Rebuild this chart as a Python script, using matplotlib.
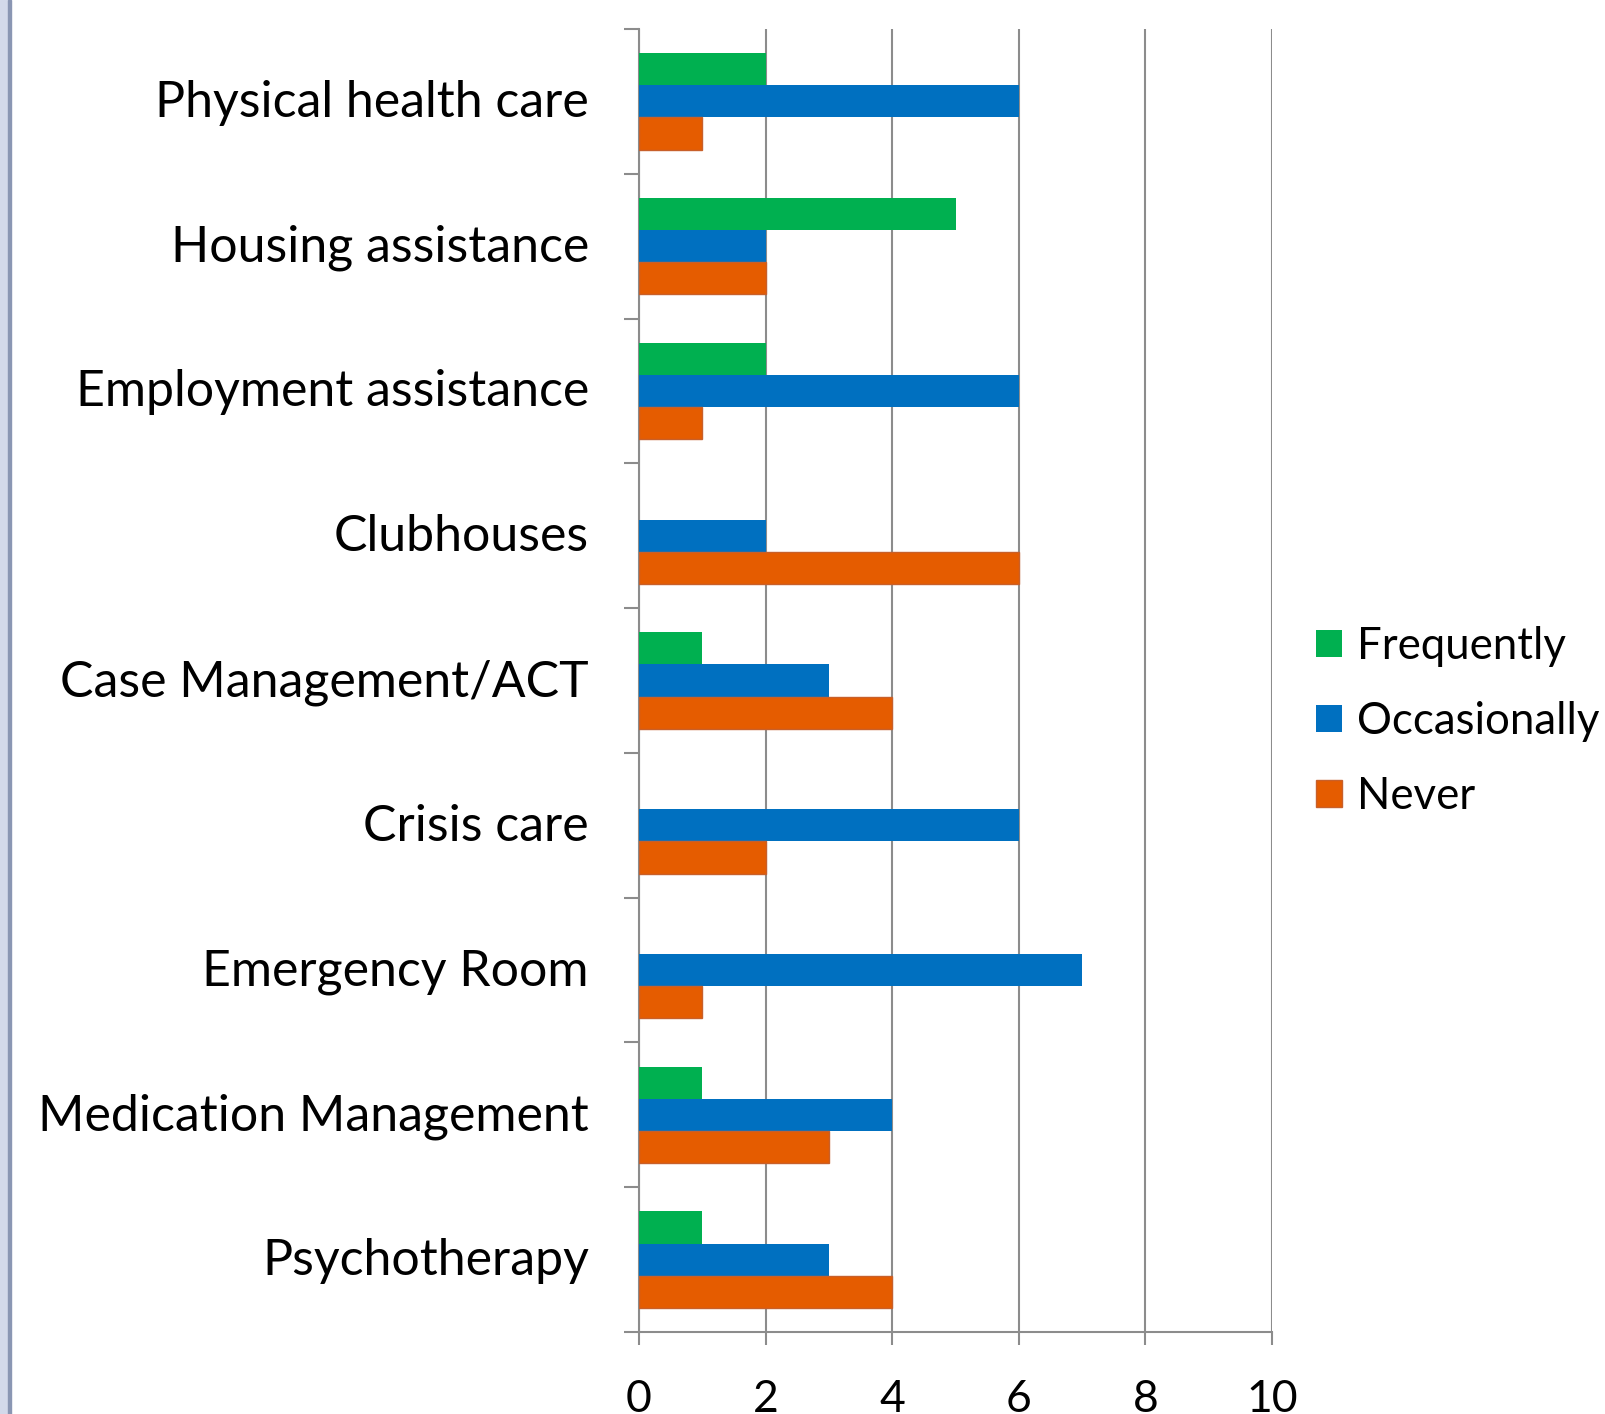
import numpy as np
import matplotlib
matplotlib.use('Agg')
from matplotlib import pyplot as plt
from matplotlib.patches import Rectangle
from matplotlib.transforms import ScaledTranslation

plt.rcParams['font.family'] = ['Lato', 'DejaVu Sans']

# data, top to bottom
categories = ['Physical health care', 'Housing assistance', 'Employment assistance',
              'Clubhouses', 'Case Management/ACT', 'Crisis care', 'Emergency Room',
              'Medication Management', 'Psychotherapy']
frequently = [2, 5, 2, 0, 1, 0, 0, 1, 1]
occasionally = [6, 2, 6, 2, 3, 6, 7, 4, 3]
never = [1, 2, 1, 6, 4, 2, 1, 3, 4]
series_names = ['Frequently', 'Occasionally', 'Never']
colors = ['#00b050', '#0070c0', '#e55c00']
x_ticks = [0, 2, 4, 6, 8, 10]

W, H = 1605, 1414
fig = plt.figure(figsize=(W / 100, H / 100), dpi=100)

# left border strip
fig.patches.append(Rectangle((0, 0), 8 / W, 1, transform=fig.transFigure, color='#d3d9ea', zorder=0))
fig.patches.append(Rectangle((8 / W, 0), 2.5 / W, 1, transform=fig.transFigure, color='#8a96b3', zorder=0))

left, right, top, bottom = 639, 1272, 29, 1332
ax = fig.add_axes([left / W, (H - bottom) / H, (right - left) / W, (bottom - top) / H])

y = np.arange(len(categories))
h = 1 / 4.5
data = [frequently, occasionally, never]
for i, (vals, c, name) in enumerate(zip(data, colors, series_names)):
    if name == 'Never':
        ax.barh(y + (i - 1) * h, vals, height=h, color=c, edgecolor='#c8602a', linewidth=1,
                label=name, zorder=3)
    else:
        ax.barh(y + (i - 1) * h, vals, height=h, color=c, linewidth=0, label=name, zorder=3)

ax.set_xlim(0, 10)
ax.set_ylim(len(categories) - 0.5, -0.5)
ax.set_xticks(x_ticks)
ax.set_xticklabels([str(t) for t in x_ticks])
ax.grid(axis='x', color='#8c8c8c', linewidth=1.5, zorder=0)
ax.set_axisbelow(True)

ax.set_yticks(y)
ax.set_yticklabels(categories)
ax.set_yticks(np.arange(len(categories) + 1) - 0.5, minor=True)
ax.tick_params(axis='y', which='major', length=0, pad=36, labelsize=36)
ax.tick_params(axis='y', which='minor', length=11, width=1.5, color='#8c8c8c')
ax.tick_params(axis='x', length=9.5, width=1.5, color='#8c8c8c', pad=24, labelsize=32)

# nudge category labels up a little
up = ScaledTranslation(0, 3 / 100, fig.dpi_scale_trans)
for lab in ax.get_yticklabels():
    lab.set_transform(lab.get_transform() + up)

for s in ['top', 'right']:
    ax.spines[s].set_visible(False)
for s in ['left', 'bottom']:
    ax.spines[s].set_color('#8c8c8c')
    ax.spines[s].set_linewidth(1.5)

leg = fig.legend(loc='upper left', bbox_to_anchor=(1316 / W, 1 - 626 / H), frameon=False,
                 fontsize=31.5, handlelength=0.585, handleheight=0.585, handletextpad=0.35,
                 labelspacing=0.78, borderaxespad=0, borderpad=0)

fig.savefig('out.png', dpi=100)
